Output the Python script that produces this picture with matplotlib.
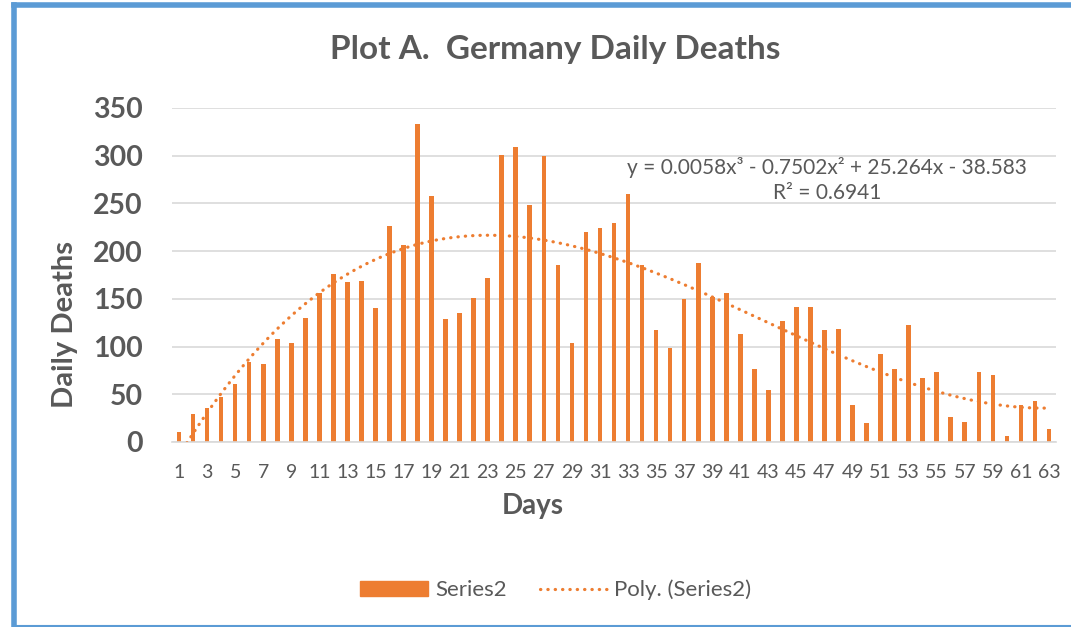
import numpy as np
import matplotlib
matplotlib.use("Agg")
import matplotlib.pyplot as plt
from matplotlib.lines import Line2D
from matplotlib.patches import Patch

plt.rcParams['font.family'] = ['Lato', 'DejaVu Sans']

# ============== data
days = np.arange(1, 64)
deaths = [10, 29, 36, 47, 61, 84, 82, 108, 104, 130,
          156, 176, 168, 169, 140, 226, 206, 333, 258, 129,
          135, 151, 172, 301, 309, 248, 300, 186, 104, 220,
          224, 229, 260, 185, 117, 99, 150, 188, 152, 156,
          113, 76, 54, 127, 141, 141, 117, 118, 39, 20,
          92, 77, 123, 67, 73, 26, 21, 73, 70, 6,
          39, 43, 14]
tick_labels = [str(d) for d in days[::2]]
eq_text = "y = 0.0058x³ - 0.7502x² + 25.264x - 38.583\nR² = 0.6941"

orange = '#ED7D31'
grey_txt = '#595959'
grid_col = '#D9D9D9'

# ============== polynomial trendline (order 3), like Excel does it
coef = np.polyfit(days, deaths, 3)
xs = np.linspace(1, 63, 400)
trend = np.polyval(coef, xs)

fig = plt.figure(figsize=(10.71, 6.27), dpi=100)
ax = fig.add_axes([172/1071, 1-442/627, (1056-172)/1071, (442-108)/627])

ax.bar(days, deaths, width=0.33, color=orange, zorder=2)
ax.plot(xs, trend, color=orange, lw=2.3, linestyle=(0, (0.1, 2.2)),
        dash_capstyle='round', zorder=3)

ax.set_xlim(0.5, 63.5)
ax.set_ylim(0, 350)
ax.set_yticks(np.arange(0, 351, 50))
ax.set_xticks(days[::2])
ax.set_xticklabels(tick_labels)
ax.grid(axis='y', color=grid_col, lw=1.2, zorder=0)
ax.set_axisbelow(True)
for s in ['top', 'right', 'left']:
    ax.spines[s].set_visible(False)
ax.spines['bottom'].set_color(grid_col)
ax.spines['bottom'].set_linewidth(1.2)
ax.tick_params(length=0)
ax.tick_params(axis='y', labelsize=20.5, labelcolor=grey_txt, pad=21)
ax.tick_params(axis='x', labelsize=14, labelcolor=grey_txt, pad=16)
for t in ax.get_yticklabels():
    t.set_fontweight('bold')

ax.text(827/1071, 1-180/627, eq_text, transform=fig.transFigure, ha='center',
        va='center', fontsize=15, color=grey_txt, linespacing=1.35)

fig.text(0.518, 1-50/627, "Plot A.  Germany Daily Deaths", ha='center', va='center',
         fontsize=24, fontweight='bold', color=grey_txt)
fig.text(65/1071, 1-325/627, "Daily Deaths", rotation=90, ha='center', va='center',
         fontsize=21, fontweight='bold', color=grey_txt)
fig.text(533/1071, 1-506/627, "Days", ha='center', va='center',
         fontsize=20, fontweight='bold', color=grey_txt)

handles = [Patch(color=orange, label='Series2'),
           Line2D([], [], color=orange, lw=2.3, linestyle=(0, (0.1, 2.2)),
                  dash_capstyle='round', label='Poly. (Series2)')]
leg = fig.legend(handles=handles, loc='center', bbox_to_anchor=(0.519, 1-590/627),
                 ncol=2, frameon=False, fontsize=16, handlelength=3.05,
                 handleheight=0.6, handletextpad=0.3, columnspacing=1.5)
for t in leg.get_texts():
    t.set_color(grey_txt)

# chart border (top / left / bottom)
border = '#5B9BD5'
fig.add_artist(Line2D([14/1071, 1], [1-5/627, 1-5/627], color=border, lw=4,
                      transform=fig.transFigure))
fig.add_artist(Line2D([14/1071, 14/1071], [1-5/627, 1/627], color=border, lw=4,
                      transform=fig.transFigure))
fig.add_artist(Line2D([14/1071, 1], [1/627, 1/627], color=border, lw=1.5,
                      transform=fig.transFigure))

fig.savefig("out.png", dpi=100)
